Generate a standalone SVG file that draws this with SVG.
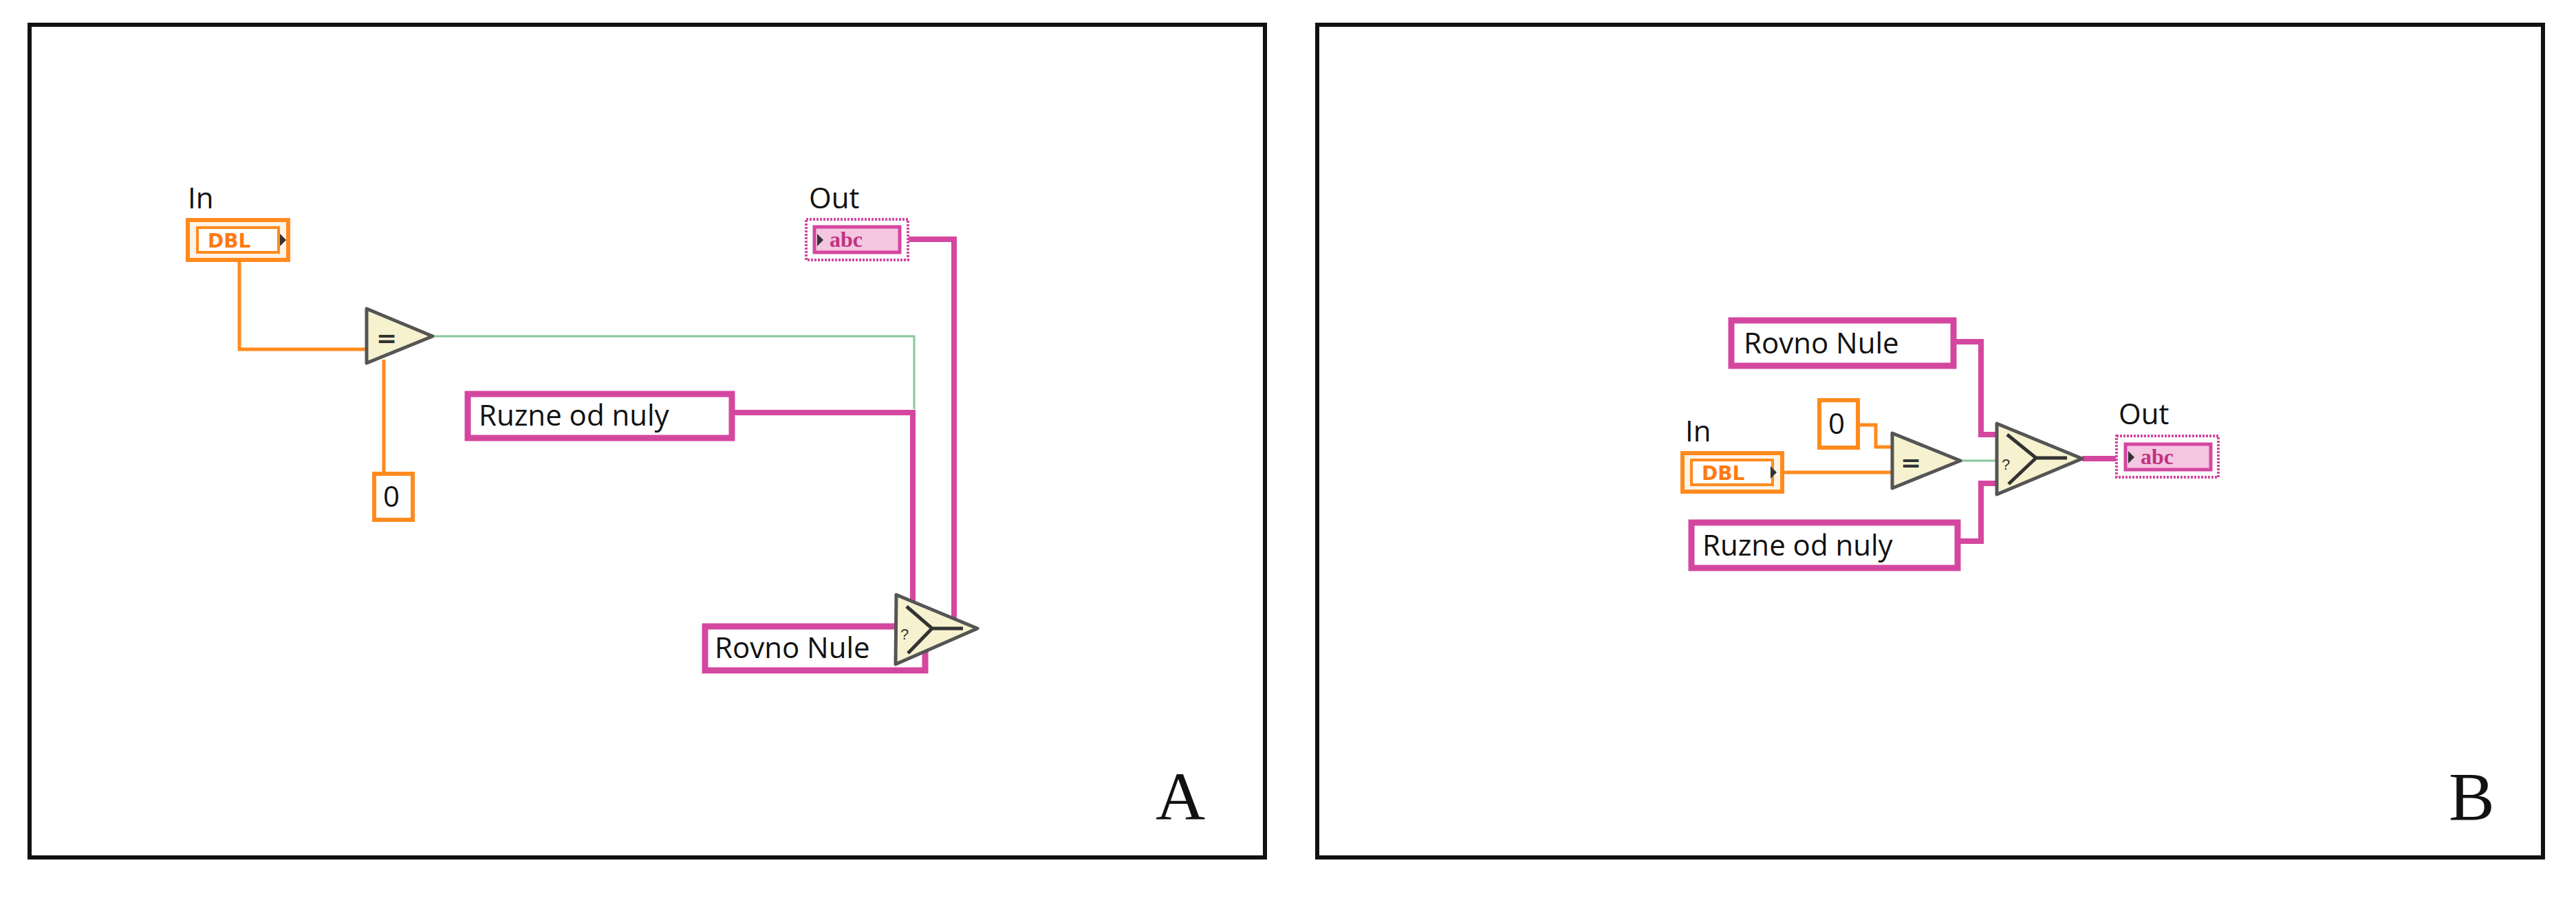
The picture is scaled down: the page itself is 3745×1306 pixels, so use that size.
<svg xmlns="http://www.w3.org/2000/svg" width="3745" height="1306" viewBox="0 0 3745 1306">
<style>
.frame{fill:#fff;stroke:#111;stroke-width:6}
.lbl{font-family:"Open Sans","Liberation Sans",sans-serif;font-size:42px;fill:#111}
.cst{fill:#fff;stroke:#d4479f;stroke-width:9}
.num{fill:#fff;stroke:#ff8a1e;stroke-width:6}
.dblo{fill:#fff3e6;stroke:#ff8a1e;stroke-width:6}
.dbli{fill:#fff;stroke:#ff8a1e;stroke-width:4}
.dblt{font-family:"DejaVu Sans","Liberation Sans",sans-serif;font-weight:bold;font-size:28px;fill:#ff7a10}
.abco{fill:#fff;stroke:#d4479f;stroke-width:4;stroke-dasharray:3 2}
.abci{fill:#f4c6e2;stroke:#d4479f;stroke-width:5}
.abct{font-family:"Liberation Serif",serif;font-weight:bold;font-size:32px;fill:#c0337f}
.tri{fill:#f6f2cf;stroke:#555;stroke-width:5;stroke-linejoin:round}
.wo{fill:none;stroke:#ff8a1e;stroke-width:5}
.wp{fill:none;stroke:#d4479f;stroke-width:8}
.wg{fill:none;stroke:#86c99a;stroke-width:3}
.big{font-family:"Liberation Serif",serif;font-size:100px;fill:#111}
</style>
<rect class="frame" x="43" y="36" width="1796" height="1211"/>
<rect class="frame" x="1915" y="36" width="1782" height="1211"/>
<text class="big" x="1680" y="1192">A</text>
<text class="big" x="3560" y="1192">B</text>

<g id="connectors">
<path class="wo" d="M348 380V508H533"/>
<path class="wo" d="M558 523V690"/>
<path class="wg" d="M629 489H1329V595"/>
<path class="wp" d="M1067 600H1327V875"/>
<path class="wp" d="M1321 348H1387V912"/>
<path class="wp" d="M2844 497H2880V632H2904"/>
<path class="wo" d="M2702 618H2727V650H2751"/>
<path class="wo" d="M2593 687H2751"/>
<path class="wg" d="M2850 670H2901"/>
<path class="wp" d="M3027 667H3076"/>
<path class="wp" d="M2904 703H2880V787H2850"/>
</g>

<g id="A-in">
<text class="lbl" x="273" y="303">In</text>
<rect class="dblo" x="273" y="320" width="146" height="58"/>
<rect class="dbli" x="287" y="331" width="118" height="36"/>
<text class="dblt" x="302" y="360">DBL</text>
<path d="M407 340L416 349L407 358Z" fill="#333"/>
</g>
<g id="A-eq"><path class="tri" d="M533 449L629 489L533 528Z"/><text x="547" y="504" font-family="DejaVu Sans,sans-serif" font-weight="bold" font-size="36" fill="#333">=</text></g>
<g id="A-zero"><rect class="num" x="544" y="689" width="56" height="67"/><text class="lbl" x="557" y="737">0</text></g>
<g id="A-ruzne"><rect class="cst" x="680" y="573" width="384" height="64"/><text class="lbl" x="696" y="619">Ruzne od nuly</text></g>
<g id="A-out">
<text class="lbl" x="1176" y="303">Out</text>
<rect class="abco" x="1172" y="319" width="148" height="59"/>
<rect class="abci" x="1184" y="330" width="124" height="37"/>
<path d="M1188 340L1197 349L1188 358Z" fill="#333"/>
<text class="abct" x="1206" y="359">abc</text>
</g>
<g id="A-rovno"><rect class="cst" x="1025" y="911" width="320" height="64"/><text class="lbl" x="1039" y="957">Rovno Nule</text></g>
<g id="A-select">
<path class="tri" d="M1303 865L1421 914L1302 966Z"/>
<path d="M1318 882L1355 914H1400M1355 914L1320 950" fill="none" stroke="#333" stroke-width="5"/>
<text x="1309" y="930" font-family="Liberation Sans,sans-serif" font-size="22" fill="#333">?</text>
</g>

<g id="B-rovno"><rect class="cst" x="2517" y="466" width="323" height="66"/><text class="lbl" x="2535" y="514">Rovno Nule</text></g>
<g id="B-zero"><rect class="num" x="2645" y="582" width="56" height="69"/><text class="lbl" x="2658" y="631">0</text></g>
<g id="B-in">
<text class="lbl" x="2450" y="642">In</text>
<rect class="dblo" x="2446" y="659" width="145" height="56"/>
<rect class="dbli" x="2459" y="669" width="118" height="36"/>
<text class="dblt" x="2474" y="698">DBL</text>
<path d="M2574 678L2583 687L2574 696Z" fill="#333"/>
</g>
<g id="B-eq"><path class="tri" d="M2751 630L2850 670L2751 710Z"/><text x="2763" y="685" font-family="DejaVu Sans,sans-serif" font-weight="bold" font-size="36" fill="#333">=</text></g>
<g id="B-select">
<path class="tri" d="M2903 616L3027 667L2903 719Z"/>
<path d="M2918 632L2960 666H3005M2960 666L2920 704" fill="none" stroke="#333" stroke-width="5"/>
<text x="2910" y="683" font-family="Liberation Sans,sans-serif" font-size="22" fill="#333">?</text>
</g>
<g id="B-out">
<text class="lbl" x="3080" y="617">Out</text>
<rect class="abco" x="3077" y="634" width="148" height="60"/>
<rect class="abci" x="3090" y="646" width="124" height="37"/>
<path d="M3094 656L3103 665L3094 674Z" fill="#333"/>
<text class="abct" x="3112" y="675">abc</text>
</g>
<g id="B-ruzne"><rect class="cst" x="2459" y="760" width="387" height="66"/><text class="lbl" x="2475" y="808">Ruzne od nuly</text></g>
</svg>
